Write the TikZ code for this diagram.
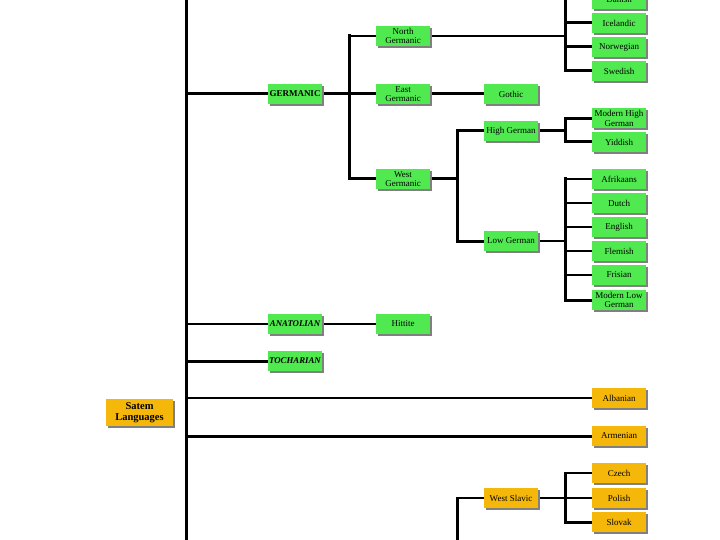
\documentclass[tikz,border=0pt]{standalone}
\usepackage{fontspec}
\setmainfont{Liberation Serif}
\usetikzlibrary{shadows,backgrounds}
\definecolor{boxgreen}{HTML}{50EA50}
\definecolor{boxgold}{HTML}{F5B80A}
\begin{document}
\begin{tikzpicture}[x=1pt,y=-1pt,
  box/.style={rectangle, minimum width=54pt, minimum height=20pt, inner sep=0pt,
    font=\fontsize{9}{9.6}\selectfont, align=center,
    drop shadow={shadow xshift=1.6pt, shadow yshift=-1.6pt, fill=black!50, opacity=1}},
  gbox/.style={box, fill=boxgreen},
  ybox/.style={box, fill=boxgold},
  capsbox/.style={gbox, font=\fontsize{9}{10}\selectfont\bfseries},
  capsit/.style={gbox, font=\fontsize{8.8}{10}\selectfont\bfseries\itshape},
  thk/.style={line width=3pt, line cap=rect},
  thn/.style={line width=1.5pt}]
\useasboundingbox (0,0) rectangle (720,540);

% nodes
\node[capsbox] (germanic) at (295,94) {GERMANIC};
\node[gbox] (ng) at (403,36) {North\\Germanic};
\node[gbox] (eg) at (403,94) {East\\Germanic};
\node[gbox] (wg) at (403,179) {West\\Germanic};
\node[gbox] (gothic) at (511,94) {Gothic};
\node[gbox] (hg) at (511,131) {High German};
\node[gbox] (lg) at (511,241) {Low German};
\node[gbox] (danish) at (619,-1) {Danish};
\node[gbox] (icelandic) at (619,23) {Icelandic};
\node[gbox] (norwegian) at (619,47) {Norwegian};
\node[gbox] (swedish) at (619,71) {Swedish};
\node[gbox] (mhg) at (619,118.5) {Modern High\\German};
\node[gbox] (yiddish) at (619,142) {Yiddish};
\node[gbox] (afrikaans) at (619,179) {Afrikaans};
\node[gbox] (dutch) at (619,203) {Dutch};
\node[gbox] (english) at (619,227) {English};
\node[gbox] (flemish) at (619,251) {Flemish};
\node[gbox] (frisian) at (619,275) {Frisian};
\node[gbox] (mlg) at (619,300) {Modern Low\\German};
\node[capsit] (anatolian) at (295,324) {ANATOLIAN};
\node[gbox] (hittite) at (403,324) {Hittite};
\node[capsit] (tocharian) at (295,361) {TOCHARIAN};
\node[ybox, minimum width=67pt, minimum height=27pt, font=\fontsize{10.5}{11.5}\selectfont\bfseries] (satem) at (139.5,412.5) {Satem\\Languages};
\node[ybox] (albanian) at (619,398) {Albanian};
\node[ybox] (armenian) at (619,436) {Armenian};
\node[ybox] (westslavic) at (511,498) {West Slavic};
\node[ybox] (czech) at (619,473) {Czech};
\node[ybox] (polish) at (619,498) {Polish};
\node[ybox] (slovak) at (619,522) {Slovak};

\coordinate (mtop) at (186,-5);
\coordinate (mbot) at (186,545);
\coordinate (jG) at (349,94);
\coordinate (jN) at (565,36);
\coordinate (jW) at (457,179);
\coordinate (jH) at (565,131);
\coordinate (jL) at (565,241);
\coordinate (jS) at (457,498);
\coordinate (jSb) at (457,545);
\coordinate (jV) at (565,498);

\begin{scope}[on background layer]
\draw[thk] (mtop) -- (mbot);
\draw[thk] (mtop |- germanic) -- (germanic.west);
\draw[thk] (germanic.east) -- (jG);
\draw[thk] (jG |- ng) -- (jG |- wg);
\draw[thn] (jG |- ng) -- (ng.west);
\draw[thk] (jG) -- (eg.west);
\draw[thk] (jG |- wg) -- (wg.west);
% North Germanic
\draw[thn] (ng.east) -- (jN);
\draw[thk] (jN |- danish) -- (jN |- swedish);
\foreach \n in {danish,icelandic,norwegian,swedish}
  \draw[thk] (jN |- \n) -- (\n.west);
% East Germanic
\draw[thk] (eg.east) -- (gothic.west);
% West Germanic
\draw[thk] (wg.east) -- (jW);
\draw[thk] (jW |- hg) -- (jW |- lg);
\draw[thk] (jW |- hg) -- (hg.west);
\draw[thk] (jW |- lg) -- (lg.west);
% High German
\draw[thk] (hg.east) -- (jH);
\draw[thk] (jH |- mhg) -- (jH |- yiddish);
\draw[thk] (jH |- mhg) -- (mhg.west);
\draw[thk] (jH |- yiddish) -- (yiddish.west);
% Low German
\draw[thn] (lg.east) -- (jL);
\draw[thk] (jL |- afrikaans) -- (jL |- mlg);
\foreach \n in {afrikaans,dutch,english,flemish,frisian}
  \draw[thn] (jL |- \n) -- (\n.west);
\draw[thk] (jL |- mlg) -- (mlg.west);
% Anatolian, Tocharian
\draw[thn] (mtop |- anatolian) -- (anatolian.west);
\draw[thn] (anatolian.east) -- (hittite.west);
\draw[thk] (mtop |- tocharian) -- (tocharian.west);
% Satem
\draw[thn] (mtop |- albanian) -- (albanian.west);
\draw[thk] (mtop |- armenian) -- (armenian.west);
\draw[thk] (jS) -- (jSb);
\draw[thn] (jS) -- (westslavic.west);
\draw[thn] (westslavic.east) -- (jV);
\draw[thk] (jV |- czech) -- (jV |- slovak);
\draw[thn] (jV |- czech) -- (czech.west);
\draw[thn] (jV) -- (polish.west);
\draw[thk] (jV |- slovak) -- (slovak.west);
\end{scope}
\end{tikzpicture}
\end{document}
